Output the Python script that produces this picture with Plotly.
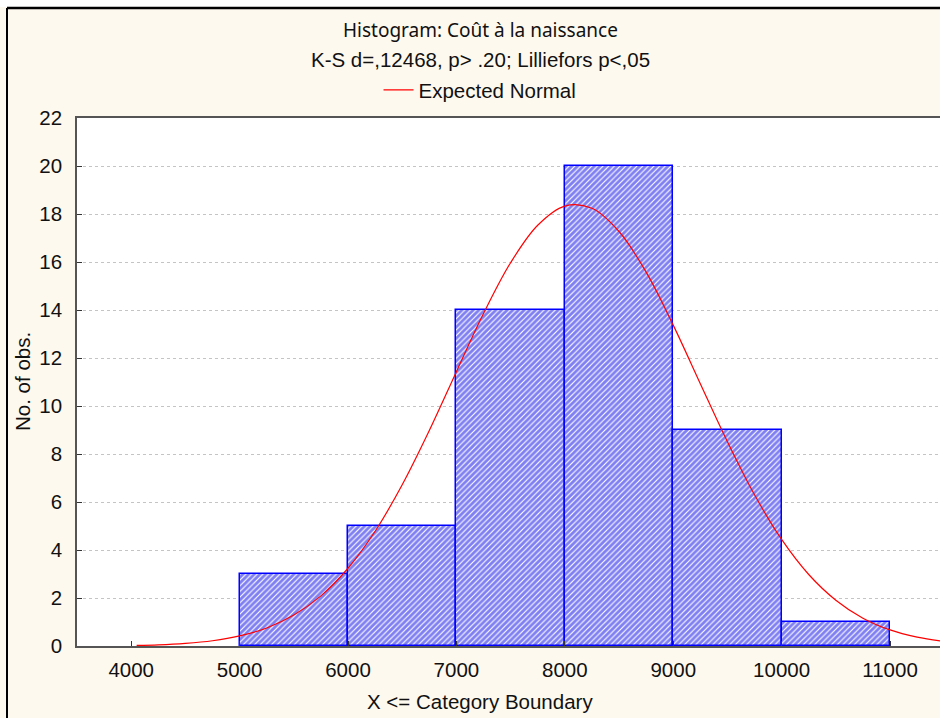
import plotly.graph_objects as go

# ---- data ----
bin_edges = [5000, 6000, 7000, 8000, 9000, 10000, 11000]
counts = [3, 5, 14, 20, 9, 1]

curve_x = [4050, 4250, 4500, 4750, 5000, 5250, 5500, 5750, 6000, 6250, 6500, 6750,
           7000, 7250, 7500, 7750, 8000, 8250, 8500, 8750, 9000, 9250, 9500, 9750,
           10000, 10250, 10500, 10750, 11000, 11250, 11500]
curve_y = [0.03, 0.05, 0.11, 0.22, 0.42, 0.75, 1.29, 2.09, 3.24, 4.78, 6.72, 8.98,
           11.43, 13.85, 15.97, 17.53, 18.33, 18.24, 17.27, 15.58, 13.37, 10.93, 8.51, 6.30,
           4.44, 2.98, 1.91, 1.16, 0.67, 0.37, 0.19]

x_ticks = [4000, 5000, 6000, 7000, 8000, 9000, 10000, 11000]
y_ticks = [0, 2, 4, 6, 8, 10, 12, 14, 16, 18, 20, 22]

title_1 = "Histogram: Coût à la naissance"
title_2 = "K-S d=,12468, p> .20; Lilliefors p<,05"
x_title = "X <= Category Boundary"
y_title = "No. of obs."
curve_name = "Expected Normal"

# ---- figure ----
centers = [(a + b) / 2 for a, b in zip(bin_edges[:-1], bin_edges[1:])]
widths = [b - a for a, b in zip(bin_edges[:-1], bin_edges[1:])]

FONT = "Liberation Sans, Arial, sans-serif"
FS = 20.5

fig = go.Figure()
fig.add_trace(go.Bar(
    x=centers, y=counts, width=widths, showlegend=False,
    marker=dict(color="white",
                line=dict(color="#0000FF", width=1.5),
                pattern=dict(shape="/", fgcolor="#0000E6", bgcolor="white",
                             size=4, solidity=0.72)),
    hoverinfo="x+y",
))
fig.add_trace(go.Scatter(
    x=curve_x, y=curve_y, mode="lines", name=curve_name,
    line=dict(color="#FF0000", width=1.2, shape="spline"),
))

fig.update_layout(
    width=940, height=718,
    margin=dict(l=77, r=0, t=118, b=72, pad=0),
    paper_bgcolor="#FEF9EF",
    plot_bgcolor="white",
    font=dict(family=FONT, size=FS, color="#111111"),
    bargap=0,
    showlegend=True,
    legend=dict(orientation="h", x=0.467, xanchor="center", y=1.053, yanchor="middle",
                bgcolor="rgba(0,0,0,0)", font=dict(family=FONT, size=FS, color="#111111"),
                itemwidth=30),
    xaxis=dict(range=[3500, 11461], tickvals=x_ticks, ticktext=[str(v) for v in x_ticks],
               ticks="inside", ticklen=5, tickcolor="#333333",
               showline=True, linecolor="#555555", linewidth=1.5, mirror=True,
               showgrid=False, zeroline=False, ticklabelstandoff=5),
    yaxis=dict(range=[0, 22], tickvals=y_ticks, ticktext=[str(v) for v in y_ticks],
               ticks="inside", ticklen=5, tickcolor="#333333",
               showline=True, linecolor="#555555", linewidth=1.5,
               showgrid=True, gridcolor="#C4C4C4", griddash="dot", gridwidth=1,
               zeroline=False, ticklabelstandoff=9),
    annotations=[
        dict(text=title_1, xref="paper", yref="paper", x=0.467, y=(646 - 30) / 528,
             xanchor="center", yanchor="middle", showarrow=False,
             font=dict(family="Noto Sans, Open Sans, sans-serif", size=19, color="#111111")),
        dict(text=title_2, xref="paper", yref="paper", x=0.467, y=(646 - 60) / 528,
             xanchor="center", yanchor="middle", showarrow=False),
        dict(text=x_title, xref="paper", yref="paper", x=0.467, y=(646 - 701) / 528,
             xanchor="center", yanchor="middle", showarrow=False),
        dict(text=y_title, xref="paper", yref="paper", x=(22 - 77) / 863, y=0.5,
             xanchor="center", yanchor="middle", showarrow=False, textangle=-90),
    ],
    shapes=[
        dict(type="rect", xref="paper", yref="paper", x0=(0 - 77) / 863, x1=(940 - 77) / 863,
             y0=(646 - 7) / 528, y1=(646 + 0) / 528 + 0.3, fillcolor="white", line=dict(width=0),
             layer="below"),
        dict(type="line", xref="paper", yref="paper", x0=(7 - 77) / 863, x1=1.05,
             y0=(646 - 8) / 528, y1=(646 - 8) / 528, line=dict(color="black", width=2.5)),
        dict(type="line", xref="paper", yref="paper", x0=(7 - 77) / 863, x1=(7 - 77) / 863,
             y0=(646 - 8) / 528, y1=-0.3, line=dict(color="black", width=2)),
    ],
)

fig.write_html("out.html")
